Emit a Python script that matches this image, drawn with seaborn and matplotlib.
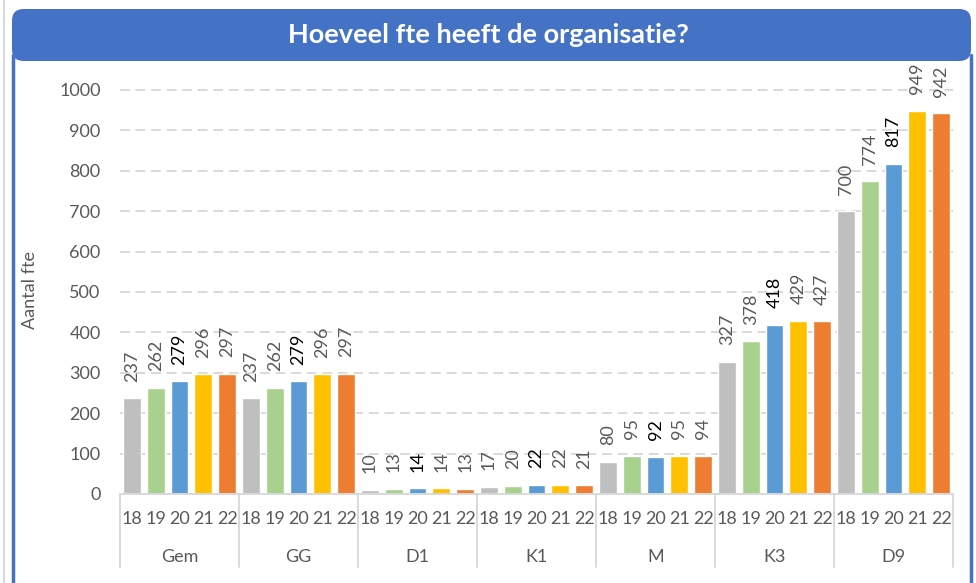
import matplotlib
matplotlib.use("Agg")
import matplotlib.pyplot as plt
import seaborn as sns
import pandas as pd
from matplotlib.patches import FancyBboxPatch
from matplotlib.lines import Line2D
import matplotlib.transforms as mtransforms

groups = ["Gem", "GG", "D1", "K1", "M", "K3", "D9"]
years = ["18", "19", "20", "21", "22"]
gem = [237, 262, 279, 296, 297]
gg = [237, 262, 279, 296, 297]
d1 = [10, 13, 14, 14, 13]
k1 = [17, 20, 22, 22, 21]
m = [80, 95, 92, 95, 94]
k3 = [327, 378, 418, 429, 427]
d9 = [700, 774, 817, 949, 942]
series = [gem, gg, d1, k1, m, k3, d9]
colors = ["#BFBFBF", "#A9D18E", "#5B9BD5", "#FFC000", "#ED7D31"]
title = "Hoeveel fte heeft de organisatie?"
ylabel = "Aantal fte"

rows = []
for g, vals in zip(groups, series):
    for y, v in zip(years, vals):
        rows.append({"cat": f"{g}-{y}", "group": g, "year": y, "fte": v})
df = pd.DataFrame(rows)
order = list(df["cat"])

sns.set_theme(style="white")
plt.rcParams["font.family"] = ["Lato", "DejaVu Sans"]

fig = plt.figure(figsize=(9.76, 5.83), dpi=100)
ax = fig.add_axes([0.1230, 0.1527, 0.8535, 0.7276])

sns.barplot(data=df, x="cat", y="fte", hue="year", order=order, hue_order=years,
            palette=colors, dodge=False, width=0.75, ax=ax, legend=False,
            saturation=1)

fs = 13
ax.set_ylim(0, 1050)
ax.set_xlim(-0.5, len(order) - 0.5)
ax.set_yticks(range(0, 1001, 100))
ax.set_yticklabels([str(v) for v in range(0, 1001, 100)], fontsize=fs, color="#595959")
ax.tick_params(axis="y", length=0, pad=14)
ax.set_xticks(range(len(order)))
ax.set_xticklabels(list(df["year"]), fontsize=fs, color="#595959")
ax.tick_params(axis="x", length=0, pad=12)
ax.set_xlabel("")
ax.set_ylabel(ylabel, fontsize=fs, color="#595959")
ax.yaxis.set_label_coords((38 - 120) / 833, 0.48)

for v in range(100, 1001, 100):
    ax.axhline(v, color="#D9D9D9", lw=1.4, ls=(0, (5, 3)), zorder=0)
for s in ["top", "right", "left"]:
    ax.spines[s].set_visible(False)
ax.spines["bottom"].set_color("#D9D9D9")
ax.spines["bottom"].set_linewidth(1.4)

# data labels
for cont in ax.containers:
    for bar in cont:
        h = bar.get_height()
        if h != h:
            continue
        x = bar.get_x() + bar.get_width() / 2
        idx = int(round(x))
        yr = df["year"].iloc[idx]
        col = "#000000" if yr == "20" else "#595959"
        ax.annotate(f"{int(h)}", (x, h), xytext=(0, 12), textcoords="offset points",
                    rotation=90, ha="center", va="bottom", fontsize=fs, color=col)

# group separators and labels
trans = mtransforms.blended_transform_factory(ax.transData, ax.transAxes)
for i in range(len(groups) + 1):
    xb = i * len(years) - 0.5
    ax.add_line(Line2D([xb, xb], [0, -0.172], transform=trans, color="#D9D9D9",
                       lw=1.4, clip_on=False))
for i, g in enumerate(groups):
    xc = i * len(years) + (len(years) - 1) / 2
    ax.text(xc, -0.1485, g, transform=trans, ha="center", va="center",
            fontsize=fs, color="#595959")

# frame decorations
fig.add_artist(Line2D([3.5 / 976, 3.5 / 976], [0, 1], transform=fig.transFigure,
                      color="#D9D9D9", lw=1.5))
for xp in [12.5, 970.5]:
    fig.add_artist(Line2D([xp / 976, xp / 976], [0, 1 - 55 / 583], transform=fig.transFigure,
                          color="#4472C4", lw=2.5))
banner = FancyBboxPatch((12 / 976, 1 - 61 / 583), (971 - 12) / 976, (61 - 9) / 583,
                        boxstyle="round,pad=0,rounding_size=0.012",
                        transform=fig.transFigure, facecolor="#4472C4",
                        edgecolor="none", mutation_aspect=976 / 583)
fig.add_artist(banner)
fig.text(0.5, 1 - 35 / 583, title, ha="center", va="center", color="white",
         fontsize=19.5, fontweight="bold")

fig.savefig("out.png", dpi=100)
